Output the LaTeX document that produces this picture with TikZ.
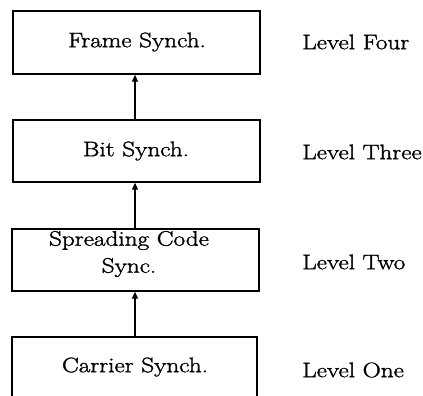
\documentclass[tikz,border=0pt]{standalone}
\usepackage{fontspec}
\setmainfont{Latin Modern Roman}[FakeStretch=1.2,FakeBold=1.5]
\usetikzlibrary{arrows.meta}
\begin{document}
\begin{tikzpicture}[x=1pt,y=-1pt,
  every node/.style={font=\fontsize{21}{27}\selectfont},
  blockbox/.style={draw,line width=1.4pt,minimum width=247pt,minimum height=62pt,inner sep=0pt},
  lvl/.style={anchor=west,inner sep=0pt},
  uparrow/.style={line width=1.2pt,-{Triangle[length=7pt,width=6pt]}}]
\useasboundingbox (0,0) rectangle (423,396);
\clip (0,0) rectangle (423,396);
\node[blockbox,minimum height=63pt] (frame) at (136.5,42.5) {};
\node[blockbox] (bit) at (136.5,151) {};
\node[blockbox] (code) at (135.5,260) {};
\node[blockbox,minimum width=245pt] (carrier) at (134.5,368) {};
\node (frametxt) at (137,42) {Frame Synch.};
\node (bittxt) at (136,151) {Bit Synch.};
\node[align=center] (codetxt) at (129,254) {Spreading Code\\Sync.};
\node (carriertxt) at (135,367) {Carrier Synch.};
\node[lvl] (l4) at (302,42) {Level Four};
\node[lvl] (l3) at (302,152) {Level Three};
\node[lvl] (l2) at (302,262) {Level Two};
\node[lvl] (l1) at (302,370) {Level One};
\draw[uparrow] (bit.north -| 135,0) -- (frame.south -| 135,0);
\draw[uparrow] (code.north -| 135,0) -- (bit.south -| 135,0);
\draw[uparrow] (carrier.north -| 135,0) -- (code.south -| 135,0);
\end{tikzpicture}
\end{document}
